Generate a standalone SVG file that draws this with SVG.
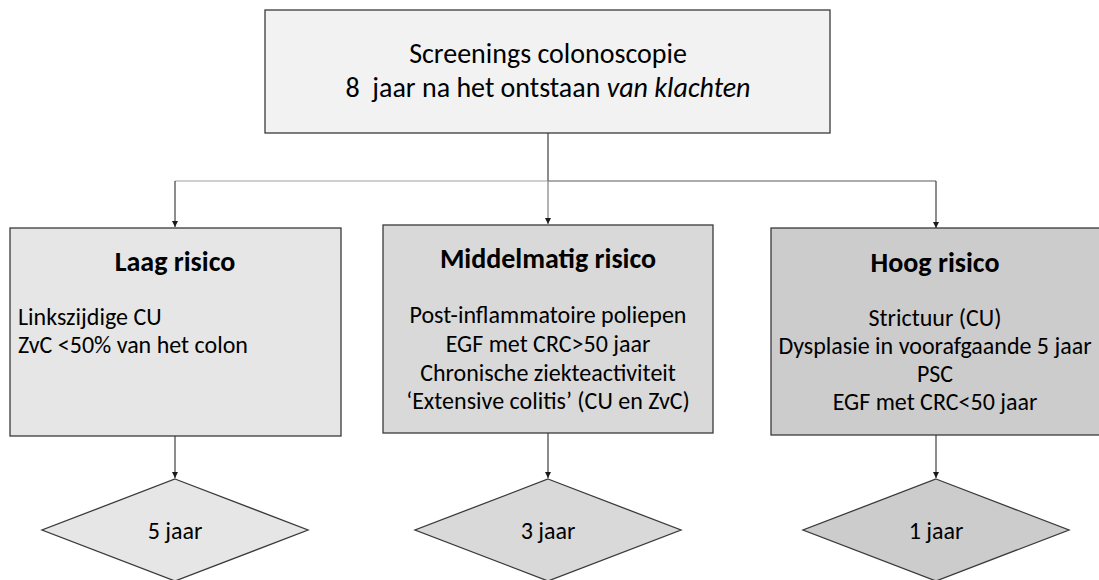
<svg xmlns="http://www.w3.org/2000/svg" width="1099" height="580" viewBox="0 0 1099 580">
<style>
.box{stroke:#3a3a3a;stroke-width:1.3}
.t{font-family:Carlito,Lato,"Liberation Sans",sans-serif;fill:#000;text-anchor:middle}
.h{font-weight:bold;font-size:28px}
.b{font-size:24px}
.top{font-size:28px}
.d{font-size:24px}
.c{fill:none;stroke-width:1.2}
</style>
<defs>
<marker id="ah" markerWidth="7" markerHeight="6" refX="6" refY="3" orient="auto" markerUnits="userSpaceOnUse">
<path d="M0,0 L6,3 L0,6 Z" fill="#1a1a1a"/>
</marker>
</defs>
<g id="connectors">
<path class="c" stroke="#404040" d="M548,133 V181"/>
<path class="c" stroke="#a0a0a0" d="M548,181 H175"/>
<path class="c" stroke="#5a5a5a" d="M548,181 H936"/>
<path class="c" stroke="#404040" d="M175,181 V227" marker-end="url(#ah)"/>
<path class="c" stroke="#808080" d="M548,181 V224" marker-end="url(#ah)"/>
<path class="c" stroke="#404040" d="M936,181 V228" marker-end="url(#ah)"/>
<path class="c" stroke="#404040" d="M175,436 V478" marker-end="url(#ah)"/>
<path class="c" stroke="#404040" d="M548,433 V478" marker-end="url(#ah)"/>
<path class="c" stroke="#404040" d="M936,435 V478" marker-end="url(#ah)"/>
</g>
<g id="start">
<rect class="box" x="265" y="10" width="565" height="123" fill="#f2f2f2"/>
<text class="t top" x="548" y="63">Screenings colonoscopie</text>
<text class="t top" x="548" y="97" xml:space="preserve">8  jaar na het ontstaan <tspan font-style="italic">van klachten</tspan></text>
</g>
<g id="laag">
<rect class="box" x="10" y="228" width="331" height="208" fill="#e6e6e6"/>
<text class="t h" x="175" y="271">Laag risico</text>
<text class="t b" x="18" y="325" style="text-anchor:start">Linkszijdige CU</text>
<text class="t b" x="18" y="353" style="text-anchor:start">ZvC &lt;50% van het colon</text>
</g>
<g id="middel">
<rect class="box" x="383" y="225" width="330" height="208" fill="#d9d9d9"/>
<text class="t h" x="548" y="268">Middelmatig risico</text>
<text class="t b" x="548" y="323">Post-inflammatoire poliepen</text>
<text class="t b" x="548" y="352">EGF met CRC&gt;50 jaar</text>
<text class="t b" x="548" y="381">Chronische ziekteactiviteit</text>
<text class="t b" x="548" y="409">‘Extensive colitis’ (CU en ZvC)</text>
</g>
<g id="hoog">
<rect class="box" x="771" y="228" width="330" height="207" fill="#cccccc"/>
<text class="t h" x="935" y="272">Hoog risico</text>
<text class="t b" x="935" y="326">Strictuur (CU)</text>
<text class="t b" x="935" y="354">Dysplasie in voorafgaande 5 jaar</text>
<text class="t b" x="935" y="382">PSC</text>
<text class="t b" x="935" y="410">EGF met CRC&lt;50 jaar</text>
</g>
<g id="d5">
<polygon class="box" points="175,479 308,530 175,581 42,530" fill="#e6e6e6"/>
<text class="t d" x="175" y="539">5 jaar</text>
</g>
<g id="d3">
<polygon class="box" points="548,479 681,530 548,581 415,530" fill="#d9d9d9"/>
<text class="t d" x="548" y="539">3 jaar</text>
</g>
<g id="d1">
<polygon class="box" points="936,479 1069,530 936,581 803,530" fill="#cccccc"/>
<text class="t d" x="936" y="539">1 jaar</text>
</g>
</svg>
